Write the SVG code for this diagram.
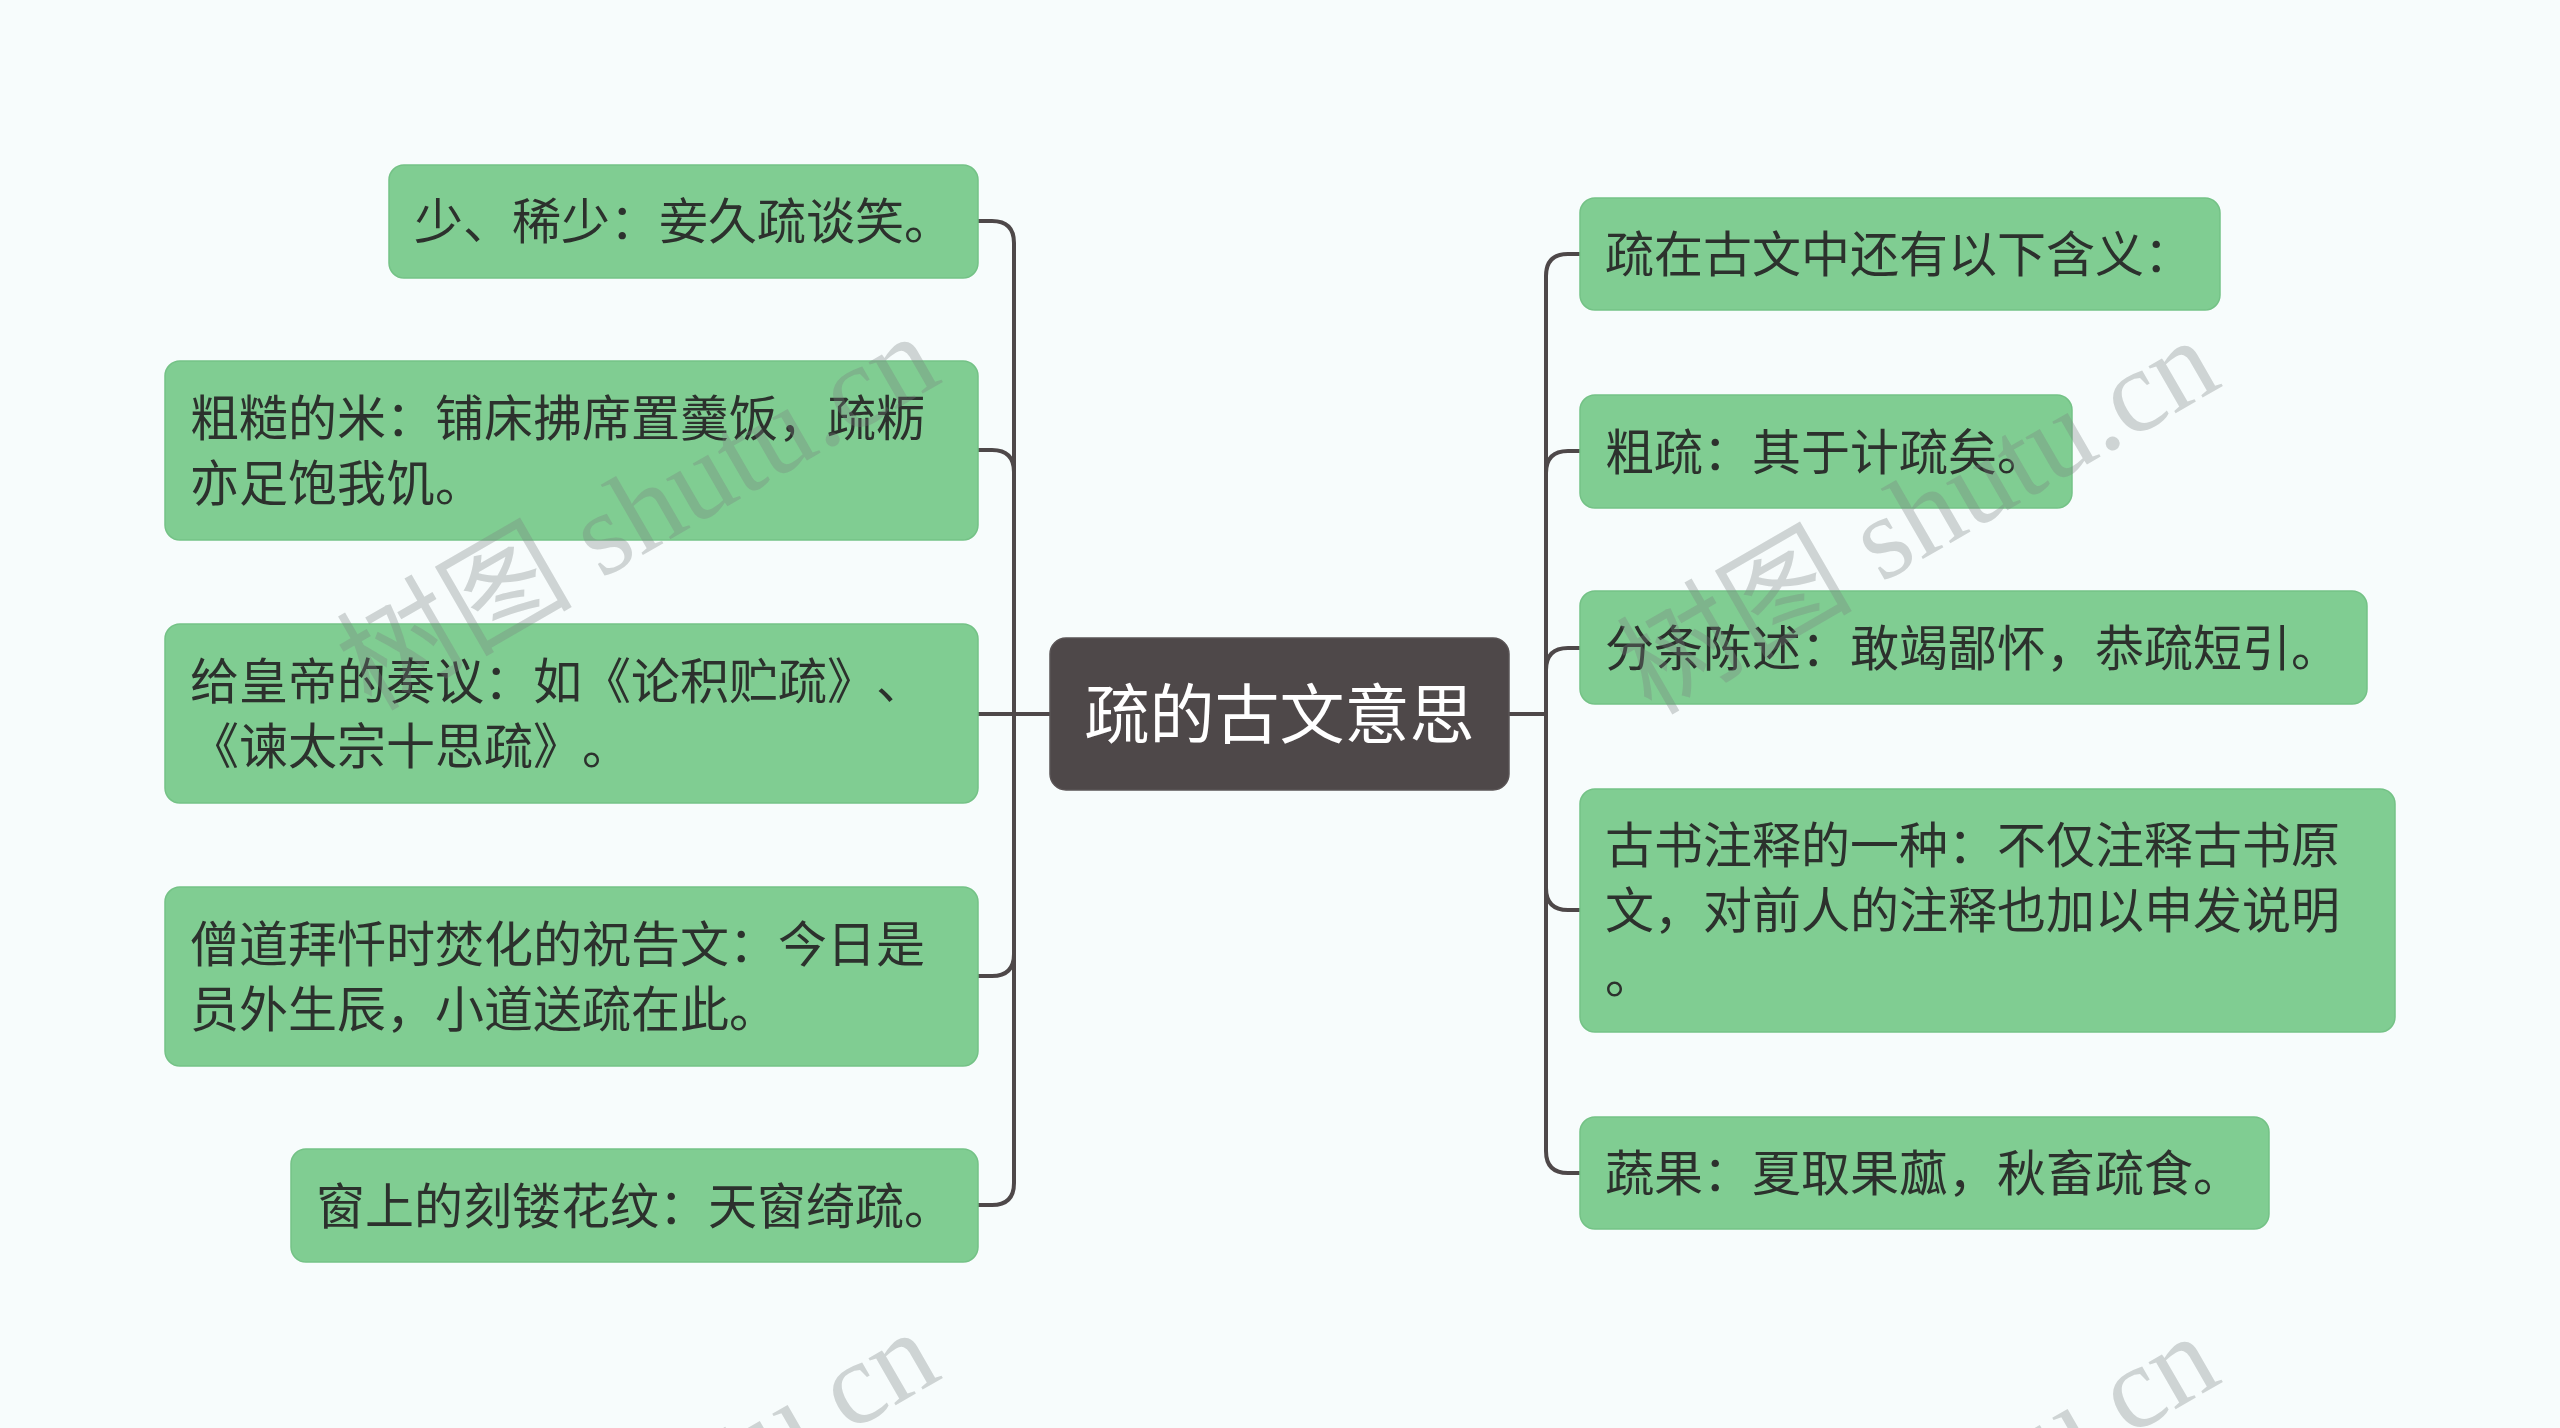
<svg xmlns="http://www.w3.org/2000/svg" width="2560" height="1428" viewBox="0 0 2560 1428">
<style>
.bg{fill:#f7fcfc}
.node rect{fill:#80cd92;stroke:#74c286;stroke-width:1.5}
.node text{font-family:"Noto Sans CJK SC","Noto Sans",sans-serif;font-size:49px;fill:#2c312d;text-spacing-trim:space-all}
.root rect{fill:#4e4849;stroke:#5a5455;stroke-width:1.5}
.root text{font-family:"Noto Sans CJK SC","Noto Sans",sans-serif;font-size:65px;fill:#ffffff;text-anchor:middle}
.links path{fill:none;stroke:#4e4849;stroke-width:4;stroke-linecap:round;stroke-linejoin:round}
.wm text{font-family:"Liberation Serif","Noto Sans CJK SC",serif;font-size:118px;fill:#7a7f7f;fill-opacity:0.32}
</style>
<rect class="bg" x="0" y="0" width="2560" height="1428"/>

<g id="connectors" class="links">
<path d="M1050,714 H1014"/>
<path d="M1014,714 V243 Q1014,221 992,221 H978"/>
<path d="M1014,714 V472 Q1014,450 992,450 H978"/>
<path d="M1014,714 H978"/>
<path d="M1014,714 V954 Q1014,976 992,976 H978"/>
<path d="M1014,714 V1183 Q1014,1205 992,1205 H978"/>
<path d="M1509,714 H1546"/>
<path d="M1546,714 V276 Q1546,254 1568,254 H1580"/>
<path d="M1546,714 V473 Q1546,451 1568,451 H1580"/>
<path d="M1546,714 V670 Q1546,648 1568,648 H1580"/>
<path d="M1546,714 V888 Q1546,910 1568,910 H1580"/>
<path d="M1546,714 V1151 Q1546,1173 1568,1173 H1580"/>
</g>

<g id="root" class="root">
<rect x="1050" y="638" width="459" height="152" rx="16"/>
<text x="1279.5" y="738">疏的古文意思</text>
</g>

<g id="node-l1" class="node">
<rect x="389" y="165" width="589" height="113" rx="15"/>
<text x="414" y="239">少、稀少：妾久疏谈笑。</text>
</g>
<g id="node-l2" class="node">
<rect x="165" y="361" width="813" height="179" rx="15"/>
<text x="190" y="436">粗糙的米：铺床拂席置羹饭，疏粝</text>
<text x="190" y="501">亦足饱我饥。</text>
</g>
<g id="node-l3" class="node">
<rect x="165" y="624" width="813" height="179" rx="15"/>
<text x="190" y="699">给皇帝的奏议：如《论积贮疏》、</text>
<text x="190" y="764">《谏太宗十思疏》。</text>
</g>
<g id="node-l4" class="node">
<rect x="165" y="887" width="813" height="179" rx="15"/>
<text x="190" y="962">僧道拜忏时焚化的祝告文：今日是</text>
<text x="190" y="1027">员外生辰，小道送疏在此。</text>
</g>
<g id="node-l5" class="node">
<rect x="291" y="1149" width="687" height="113" rx="15"/>
<text x="316" y="1224">窗上的刻镂花纹：天窗绮疏。</text>
</g>

<g id="node-r1" class="node">
<rect x="1580" y="198" width="640" height="112" rx="15"/>
<text x="1605" y="272">疏在古文中还有以下含义：</text>
</g>
<g id="node-r2" class="node">
<rect x="1580" y="395" width="492" height="113" rx="15"/>
<text x="1605" y="470">粗疏：其于计疏矣。</text>
</g>
<g id="node-r3" class="node">
<rect x="1580" y="591" width="787" height="113" rx="15"/>
<text x="1605" y="666">分条陈述：敢竭鄙怀，恭疏短引。</text>
</g>
<g id="node-r4" class="node">
<rect x="1580" y="789" width="815" height="243" rx="15"/>
<text x="1605" y="863">古书注释的一种：不仅注释古书原</text>
<text x="1605" y="928">文，对前人的注释也加以申发说明</text>
<text x="1605" y="993">。</text>
</g>
<g id="node-r5" class="node">
<rect x="1580" y="1117" width="689" height="112" rx="15"/>
<text x="1605" y="1191">蔬果：夏取果蓏，秋畜疏食。</text>
</g>

<g id="watermark" class="wm">
<text transform="translate(371,712) rotate(-30)">树图 shutu.cn</text>
<text transform="translate(1651,716) rotate(-30)">树图 shutu.cn</text>
<text transform="translate(371,1708) rotate(-30)">树图 shutu.cn</text>
<text transform="translate(1651,1712) rotate(-30)">树图 shutu.cn</text>
</g>
</svg>
